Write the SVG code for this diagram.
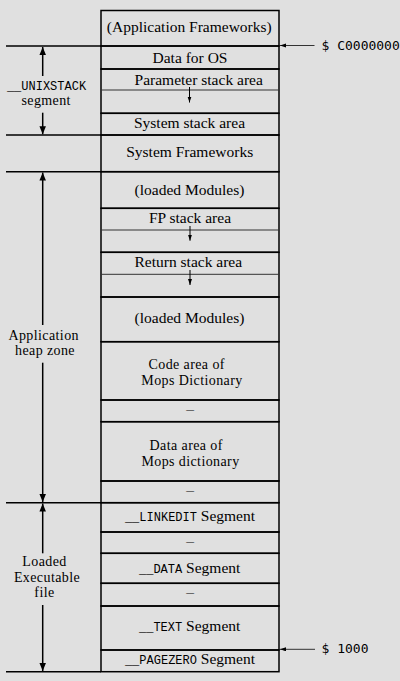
<svg xmlns="http://www.w3.org/2000/svg" width="400" height="681" viewBox="0 0 400 681">
<style>
.bg{fill:#e0e0e0}
.seg{fill:none;stroke:#000;stroke-width:1.5}
.thin{stroke:#333;stroke-width:1}
.t{font-family:"Liberation Serif","Times New Roman",serif;font-size:15.5px;fill:#000;text-anchor:middle}
.t2{font-family:"Liberation Serif","Times New Roman",serif;font-size:14px;letter-spacing:0.4px;fill:#000;text-anchor:middle}
.tt{font-family:"Liberation Mono","Courier New",monospace;font-size:12px}
.ttl{font-family:"Liberation Mono","Courier New",monospace;font-size:12px;fill:#000;text-anchor:middle}
.addr{font-family:"DejaVu Sans Mono","Liberation Mono",monospace;font-size:13px;fill:#000}
.dim{stroke:#000;stroke-width:1.5;fill:none}
.ext{stroke:#000;stroke-width:1.5}
.sm{stroke:#000;stroke-width:1;fill:none}
.ptr{stroke:#333;stroke-width:1;fill:none}
</style>
<defs>
<marker id="big" markerUnits="userSpaceOnUse" markerWidth="8" markerHeight="8" refX="8" refY="3.25" orient="auto">
<path d="M0,0 L8,3.25 L0,6.5 Z" fill="#000"/>
</marker>
<marker id="small" markerUnits="userSpaceOnUse" markerWidth="6" markerHeight="5" refX="6" refY="2" orient="auto">
<path d="M0,0 L6,2 L0,4 Z" fill="#000"/>
</marker>
</defs>
<rect class="bg" x="0" y="0" width="400" height="681"/>

<g id="n-appfw"><rect class="seg" x="101" y="10.5" width="178" height="35.5"/><text class="t" x="189.3" y="32">(Application Frameworks)</text></g>
<g id="n-dataos"><rect class="seg" x="101" y="46" width="178" height="23"/><text class="t" x="190" y="63.3">Data for OS</text></g>
<g id="n-paramstack"><rect class="seg" x="101" y="69" width="178" height="44.3"/><line class="thin" x1="101" y1="90" x2="279" y2="90"/><text class="t" x="198.7" y="85">Parameter stack area</text></g>
<g id="n-sysstack"><rect class="seg" x="101" y="113.3" width="178" height="21.7"/><text class="t" x="189.5" y="128">System stack area</text></g>
<g id="n-sysfw"><rect class="seg" x="101" y="135" width="178" height="36.7"/><text class="t" x="189.7" y="157.3">System Frameworks</text></g>
<g id="n-loaded1"><rect class="seg" x="101" y="171.7" width="178" height="36.6"/><text class="t" x="189.5" y="195">(loaded Modules)</text></g>
<g id="n-fpstack"><rect class="seg" x="101" y="208.3" width="178" height="44"/><line class="thin" x1="101" y1="230" x2="279" y2="230"/><text class="t" x="190" y="223.3">FP stack area</text></g>
<g id="n-retstack"><rect class="seg" x="101" y="252.3" width="178" height="44.7"/><line class="thin" x1="101" y1="274.3" x2="279" y2="274.3"/><text class="t" x="188.3" y="267">Return stack area</text></g>
<g id="n-loaded2"><rect class="seg" x="101" y="297" width="178" height="44.7"/><text class="t" x="189.5" y="323.3">(loaded Modules)</text></g>
<g id="n-code"><rect class="seg" x="101" y="341.7" width="178" height="58.3"/><text class="t2" x="186.7" y="369">Code area of</text><text class="t2" x="192" y="384.7">Mops Dictionary</text></g>
<g id="n-gap1"><rect class="seg" x="101" y="400" width="178" height="21.7"/><text class="t" x="190" y="414">–</text></g>
<g id="n-data"><rect class="seg" x="101" y="421.7" width="178" height="59.3"/><text class="t2" x="186.2" y="449.8">Data area of</text><text class="t2" x="190.5" y="465.5">Mops dictionary</text></g>
<g id="n-gap2"><rect class="seg" x="101" y="481" width="178" height="21.7"/><text class="t" x="190" y="495">–</text></g>
<g id="n-linkedit"><rect class="seg" x="101" y="502.7" width="178" height="29.3"/><text class="t" x="190" y="520.7"><tspan class="tt">__LINKEDIT</tspan> Segment</text></g>
<g id="n-gap3"><rect class="seg" x="101" y="532" width="178" height="21.3"/><text class="t" x="190" y="546">–</text></g>
<g id="n-dataseg"><rect class="seg" x="101" y="553.3" width="178" height="30"/><text class="t" x="189.7" y="572.7"><tspan class="tt">__DATA</tspan> Segment</text></g>
<g id="n-gap4"><rect class="seg" x="101" y="583.3" width="178" height="22.7"/><text class="t" x="190" y="597">–</text></g>
<g id="n-textseg"><rect class="seg" x="101" y="606" width="178" height="44"/><text class="t" x="189.7" y="631"><tspan class="tt">__TEXT</tspan> Segment</text></g>
<g id="n-pagezero"><rect class="seg" x="101" y="650" width="178" height="21.7"/><text class="t" x="190" y="664.3"><tspan class="tt">__PAGEZERO</tspan> Segment</text></g>

<g id="l-unixstack"><text class="ttl" x="46.5" y="89.5">__UNIXSTACK</text><text class="t2" x="46.2" y="105.3">segment</text></g>
<g id="l-heap"><text class="t2" x="43.7" y="339.5">Application</text><text class="t2" x="45" y="355.2">heap zone</text></g>
<g id="l-loaded"><text class="t2" x="44.5" y="566">Loaded</text><text class="t2" x="47" y="581.7">Executable</text><text class="t2" x="44.5" y="597.4">file</text></g>
<g id="a-c0000000"><text class="addr" x="321.5" y="50">$ C0000000</text></g>
<g id="a-1000"><text class="addr" x="321.5" y="653">$ 1000</text></g>

<g id="connectors">
<line class="ext" x1="6" y1="46" x2="101" y2="46"/>
<line class="ext" x1="6" y1="135" x2="101" y2="135"/>
<line class="ext" x1="6" y1="171.7" x2="101" y2="171.7"/>
<line class="ext" x1="6" y1="502.7" x2="101" y2="502.7"/>
<line class="ext" x1="6" y1="671.7" x2="101" y2="671.7"/>
<line class="dim" x1="42.7" y1="76" x2="42.7" y2="47" marker-end="url(#big)"/>
<line class="dim" x1="42.7" y1="112.7" x2="42.7" y2="134.3" marker-end="url(#big)"/>
<line class="dim" x1="42.7" y1="325" x2="42.7" y2="172.5" marker-end="url(#big)"/>
<line class="dim" x1="42.7" y1="362.7" x2="42.7" y2="502" marker-end="url(#big)"/>
<line class="dim" x1="42.7" y1="553.3" x2="42.7" y2="503.5" marker-end="url(#big)"/>
<line class="dim" x1="42.7" y1="605" x2="42.7" y2="671" marker-end="url(#big)"/>
<line class="sm" x1="189.5" y1="87" x2="189.5" y2="102.5" marker-end="url(#small)"/>
<line class="sm" x1="190" y1="226" x2="190" y2="240.7" marker-end="url(#small)"/>
<line class="sm" x1="190" y1="270" x2="190" y2="285" marker-end="url(#small)"/>
<line class="ptr" x1="314.5" y1="45.5" x2="280" y2="45.5" marker-end="url(#small)"/>
<line class="ptr" x1="315" y1="649.3" x2="280" y2="649.3" marker-end="url(#small)"/>
</g>
</svg>
